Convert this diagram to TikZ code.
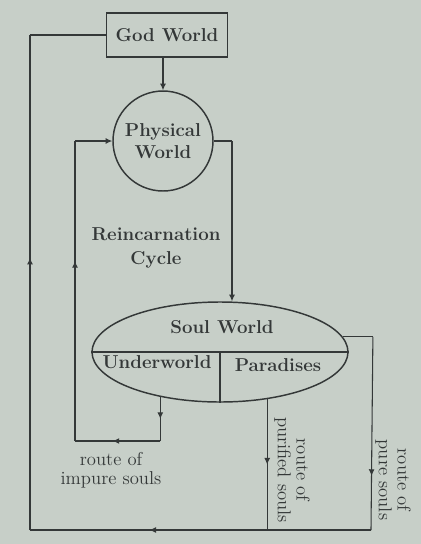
\documentclass[tikz,border=0pt]{standalone}
\usetikzlibrary{arrows.meta, positioning, shapes.geometric, calc, decorations.markings}
\definecolor{pagebg}{RGB}{199,207,200}
\definecolor{ink}{RGB}{52,56,56}
\tikzset{
    >=Latex,
    world_box/.style={
        rectangle,
        draw=ink,
        text=ink,
        line width=1.2pt,
        minimum width=91pt,
        minimum height=33pt,
        font=\bfseries\fontsize{14}{16}\selectfont
    },
    world_circle/.style={
        circle,
        draw=ink,
        text=ink,
        line width=1.1pt,
        minimum size=75pt,
        inner sep=0pt,
        align=center,
        font=\bfseries\fontsize{14}{17}\selectfont
    },
    world_ellipse/.style={
        ellipse,
        draw=ink,
        line width=1.1pt,
        minimum width=192pt,
        minimum height=75pt,
        inner sep=0pt
    },
    world_label/.style={
        align=center,
        text=ink,
        font=\bfseries\fontsize{14}{18}\selectfont
    },
    route_label/.style={
        align=center,
        text=ink,
        font=\fontsize{14}{14}\selectfont
    },
    soul_line/.style={
        draw=ink,
        line width=0.8pt
    },
    soul_arrow/.style={
        soul_line,
        -{Latex[length=5pt,width=4.5pt]}
    },
    soul_mid/.style={
        soul_line,
        postaction={decorate},
        decoration={markings,
            mark=at position #1 with {\arrow{Latex[length=5pt,width=4.5pt]}}}
    }
}

\begin{document}
\begin{tikzpicture}[x=0.75pt, y=-0.75pt]

% --- Page ---
\fill[pagebg] (0,0) rectangle (421,544);
\useasboundingbox (0,0) rectangle (421,544);

% --- Worlds ---
\node[world_box] (God) at (167,35) {God World};
\node[world_circle] (Physical) at (163,141) {Physical\\World};
\node[world_ellipse] (Soul) at (220,352) {};
\draw[soul_line, line width=1.1pt] (Soul.west) -- (Soul.east);
\draw[soul_line, line width=1.1pt] (Soul.center) -- (Soul.south);
\node[world_label] (SoulLbl) at (222,327) {Soul World};
\node[world_label] (UnderLbl) at (157,362) {Underworld};
\node[world_label] (ParaLbl) at (278,365) {Paradises};
\node[world_label] (Cycle) at (156,248) {Reincarnation\\Cycle};

% --- Corner points ---
\coordinate (godLeft) at (30,35);
\coordinate (bottomLeft) at (30,530);
\coordinate (bottomRight) at (371,530);
\coordinate (topRight) at ($(Soul.7.5) + (30,0)$);
\coordinate (physRight) at (232,141);
\coordinate (purifiedEnd) at (Soul.-45 |- bottomRight);
\coordinate (underBottom) at (Soul.-143.7 |- 0,441);
\coordinate (loopBottom) at (75,441);
\coordinate (loopTop) at (75,141);

% --- Descent ---
\draw[soul_arrow] (God.south -| Physical.north) -- (Physical.north);
\draw[soul_line] (Physical.east) -- (physRight);
\draw[soul_arrow] (physRight) -- (physRight |- Soul.north);

% --- Route of impure souls ---
\draw[soul_mid=0.5] (Soul.-143.7) -- (underBottom);
\draw[soul_mid=0.56] (underBottom) -- (loopBottom);
\draw[soul_mid=0.6] (loopBottom) -- (loopTop);
\draw[soul_arrow] (loopTop) -- (Physical.west);

% --- Routes back to God World ---
\draw[soul_line] (Soul.7.5) -- (topRight);
\draw[soul_mid=0.72] (topRight) -- (bottomRight);
\draw[soul_mid=0.5] (Soul.-45) -- (purifiedEnd);
\draw[soul_mid=0.65] (bottomRight) -- (bottomLeft);
\draw[soul_mid=0.55] (bottomLeft) -- (godLeft);
\draw[soul_line] (godLeft) -- (God.west);

% --- Route labels ---
\node[route_label] (impureLbl) at (111,470) {route of\\impure souls};
\node[route_label, rotate=-90] (purifiedLbl) at (292,470) {route of\\purified souls};
\node[route_label, rotate=-90] (pureLbl) at (393,480) {route of\\pure souls};

\end{tikzpicture}
\end{document}
